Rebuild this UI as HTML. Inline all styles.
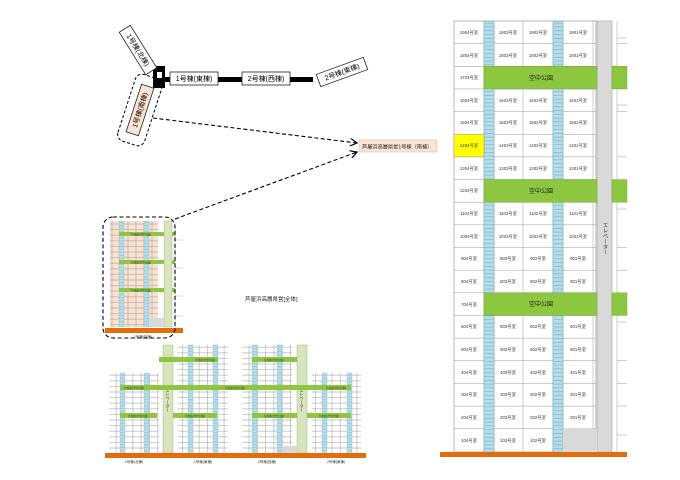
<!DOCTYPE html>
<html><head><meta charset="utf-8"><style>
html,body{margin:0;padding:0;background:#fff;}
svg{display:block;font-family:"Liberation Sans","Noto Sans CJK JP",sans-serif;}
.rt{font-size:4.3px;fill:#333;text-anchor:middle;}
.bx{fill:#fff;stroke:#222;stroke-width:0.8;}
.bt{font-size:7px;fill:#000;text-anchor:middle;}
</style></head><body>
<svg width="680" height="480" viewBox="0 0 680 480" xmlns="http://www.w3.org/2000/svg">
<defs>
<pattern id="st" width="10" height="3.8" patternUnits="userSpaceOnUse"><rect width="10" height="3.8" fill="#b7dde8"/><line x1="0" y1="0.3" x2="10" y2="0.3" stroke="#6fa9bb" stroke-width="0.5"/></pattern>
<pattern id="gw" width="8.3" height="5.6" patternUnits="userSpaceOnUse"><rect width="8.3" height="5.6" fill="#fff" stroke="#9a9a9a" stroke-width="0.5"/></pattern>
<pattern id="gp" width="8" height="5.6" patternUnits="userSpaceOnUse"><rect width="8" height="5.6" fill="#fbe1cf" stroke="#9a9a9a" stroke-width="0.5"/></pattern>
<pattern id="ss" width="5" height="3" patternUnits="userSpaceOnUse"><rect width="5" height="3" fill="#b7dde8"/><line x1="0" y1="0.2" x2="5" y2="0.2" stroke="#7fb3c4" stroke-width="0.4"/></pattern>
<marker id="ar" markerWidth="8" markerHeight="8" refX="7" refY="4" orient="auto" markerUnits="userSpaceOnUse"><path d="M0,0 L7,4 L0,8" fill="none" stroke="#000" stroke-width="1.2"/></marker>
</defs>

<!-- ================= RIGHT PANEL ================= -->
<rect x="454" y="21" width="142" height="431" fill="#fff" stroke="#888" stroke-width="0.6"/>
<g stroke="#999" stroke-width="0.5">
<line x1="484" y1="21" x2="484" y2="452"/><line x1="494" y1="21" x2="494" y2="452"/>
<line x1="523" y1="21" x2="523" y2="452"/><line x1="553" y1="21" x2="553" y2="452"/>
<line x1="563" y1="21" x2="563" y2="452"/><line x1="593" y1="21" x2="593" y2="429"/>
<line x1="454" y1="43.65" x2="596" y2="43.65"/><line x1="454" y1="66.3" x2="596" y2="66.3"/>
<line x1="454" y1="88.95" x2="596" y2="88.95"/><line x1="454" y1="111.6" x2="596" y2="111.6"/>
<line x1="454" y1="134.25" x2="596" y2="134.25"/><line x1="454" y1="156.9" x2="596" y2="156.9"/>
<line x1="454" y1="179.55" x2="596" y2="179.55"/><line x1="454" y1="202.2" x2="596" y2="202.2"/>
<line x1="454" y1="224.85" x2="596" y2="224.85"/><line x1="454" y1="247.5" x2="596" y2="247.5"/>
<line x1="454" y1="270.15" x2="596" y2="270.15"/><line x1="454" y1="292.8" x2="596" y2="292.8"/>
<line x1="454" y1="315.45" x2="596" y2="315.45"/><line x1="454" y1="338.1" x2="596" y2="338.1"/>
<line x1="454" y1="360.75" x2="596" y2="360.75"/><line x1="454" y1="383.4" x2="596" y2="383.4"/>
<line x1="454" y1="406.05" x2="596" y2="406.05"/><line x1="454" y1="428.7" x2="596" y2="428.7"/>
</g>
<rect x="484" y="21" width="10" height="431" fill="url(#st)" stroke="#6fa9bb" stroke-width="0.5"/>
<rect x="553" y="21" width="10" height="431" fill="url(#st)" stroke="#6fa9bb" stroke-width="0.5"/>
<rect x="454" y="134.25" width="30" height="22.65" fill="#ffff00" stroke="#999" stroke-width="0.5"/>
<!-- elevator -->
<rect x="597" y="21" width="15" height="431" fill="#d9d9d9" stroke="#999" stroke-width="0.5"/>
<rect x="563" y="428.7" width="34" height="23.3" fill="#d9d9d9"/>
<text x="604.5" y="222" style="font-size:5.5px;fill:#333;writing-mode:tb;">エレベーター</text>
<!-- right partial -->
<g stroke="#999" stroke-width="0.5">
<line x1="617" y1="21" x2="617" y2="452"/>
<line x1="617" y1="38" x2="627" y2="38"/><line x1="617" y1="43.65" x2="627" y2="43.65"/>
<line x1="617" y1="105" x2="627" y2="105"/><line x1="617" y1="111.6" x2="627" y2="111.6"/>
<line x1="617" y1="156.9" x2="627" y2="156.9"/><line x1="617" y1="209" x2="627" y2="209"/>
<line x1="617" y1="247.5" x2="627" y2="247.5"/><line x1="617" y1="270.15" x2="627" y2="270.15"/>
<line x1="617" y1="322" x2="627" y2="322"/><line x1="617" y1="360.75" x2="627" y2="360.75"/>
<line x1="617" y1="383.4" x2="627" y2="383.4"/><line x1="617" y1="406.05" x2="627" y2="406.05"/>
<line x1="617" y1="435" x2="627" y2="435"/>
</g>
<!-- parks -->
<g fill="#8dc63f" stroke="#6a9a2c" stroke-width="0.4">
<rect x="484" y="66.3" width="113" height="22.65"/><rect x="612" y="66.3" width="15" height="22.65"/>
<rect x="484" y="179.55" width="113" height="22.65"/><rect x="612" y="179.55" width="15" height="22.65"/>
<rect x="484" y="292.8" width="113" height="22.65"/><rect x="612" y="292.8" width="15" height="22.65"/>
</g>
<g style="font-size:6px;fill:#222;text-anchor:middle;">
<text x="541" y="80">空中公園</text><text x="541" y="193">空中公園</text><text x="541" y="306">空中公園</text>
</g>
<rect x="440" y="452" width="187" height="5" fill="#e46c0a"/>
<g class="rt">
<text x="469" y="34">1904号室</text><text x="508" y="34">1903号室</text><text x="538" y="34">1902号室</text><text x="578" y="34">1901号室</text>
<text x="469" y="57">1804号室</text><text x="508" y="57">1803号室</text><text x="538" y="57">1802号室</text><text x="578" y="57">1801号室</text>
<text x="469" y="79">1704号室</text>
<text x="469" y="102">1604号室</text><text x="508" y="102">1603号室</text><text x="538" y="102">1602号室</text><text x="578" y="102">1601号室</text>
<text x="469" y="124">1504号室</text><text x="508" y="124">1503号室</text><text x="538" y="124">1502号室</text><text x="578" y="124">1501号室</text>
<text x="469" y="147">1404号室</text><text x="508" y="147">1403号室</text><text x="538" y="147">1402号室</text><text x="578" y="147">1401号室</text>
<text x="469" y="170">1304号室</text><text x="508" y="170">1303号室</text><text x="538" y="170">1302号室</text><text x="578" y="170">1301号室</text>
<text x="469" y="192">1204号室</text>
<text x="469" y="215">1104号室</text><text x="508" y="215">1103号室</text><text x="538" y="215">1102号室</text><text x="578" y="215">1101号室</text>
<text x="469" y="238">1004号室</text><text x="508" y="238">1003号室</text><text x="538" y="238">1002号室</text><text x="578" y="238">1001号室</text>
<text x="469" y="260">904号室</text><text x="508" y="260">903号室</text><text x="538" y="260">902号室</text><text x="578" y="260">901号室</text>
<text x="469" y="283">804号室</text><text x="508" y="283">803号室</text><text x="538" y="283">802号室</text><text x="578" y="283">801号室</text>
<text x="469" y="306">704号室</text>
<text x="469" y="328">604号室</text><text x="508" y="328">603号室</text><text x="538" y="328">602号室</text><text x="578" y="328">601号室</text>
<text x="469" y="351">504号室</text><text x="508" y="351">503号室</text><text x="538" y="351">502号室</text><text x="578" y="351">501号室</text>
<text x="469" y="374">404号室</text><text x="508" y="374">403号室</text><text x="538" y="374">402号室</text><text x="578" y="374">401号室</text>
<text x="469" y="396">304号室</text><text x="508" y="396">303号室</text><text x="538" y="396">302号室</text><text x="578" y="396">301号室</text>
<text x="469" y="419">204号室</text><text x="508" y="419">203号室</text><text x="538" y="419">202号室</text><text x="578" y="419">201号室</text>
<text x="469" y="442">104号室</text><text x="508" y="442">103号室</text><text x="538" y="442">102号室</text>
</g>

<!-- ================= TOP-LEFT PLAN ================= -->
<rect x="153" y="77" width="160" height="5" fill="#000"/>
<rect x="153" y="66" width="12" height="22" fill="#000"/>
<rect x="157" y="72" width="5" height="6" fill="#fff"/>
<rect class="bx" x="170" y="72" width="48" height="13"/><text class="bt" x="194" y="81">1号棟(東棟)</text>
<rect class="bx" x="242" y="72" width="48" height="13"/><text class="bt" x="266" y="81">2号棟(西棟)</text>
<g transform="translate(342,72) rotate(-20)"><rect class="bx" x="-25" y="-6.5" width="50" height="13"/><text class="bt" x="0" y="2.5">2号棟(東棟)</text></g>
<g transform="translate(138,50) rotate(58)"><rect class="bx" x="-25" y="-6.5" width="50" height="13"/><text class="bt" x="0" y="2.5">1号棟(北棟)</text></g>
<g transform="translate(140,110) rotate(-72)">
<rect x="-35" y="-14" width="70" height="28" rx="7" fill="none" stroke="#000" stroke-width="1" stroke-dasharray="3,2"/>
<rect x="-25" y="-6.5" width="50" height="13" fill="#fbe4d5" stroke="#222" stroke-width="0.8"/><text class="bt" x="0" y="2.5">1号棟(南棟)</text></g>
<line x1="153" y1="118" x2="357" y2="143" stroke="#000" stroke-width="1.1" stroke-dasharray="4,2.5" marker-end="url(#ar)"/>
<line x1="175" y1="219" x2="357" y2="152" stroke="#000" stroke-width="1.1" stroke-dasharray="4,2.5" marker-end="url(#ar)"/>
<rect x="359" y="140" width="78" height="12" fill="#fbe4d5" stroke="#bbb" stroke-width="0.5"/>
<text x="362" y="148.5" style="font-size:5.2px;fill:#222;">芦屋浜高層県営1号棟（南棟）</text>

<!-- ================= LEFT BUILDING (南棟) ================= -->
<rect x="110" y="221" width="48" height="106" fill="url(#gp)"/>
<rect x="119" y="221" width="5" height="106" fill="url(#ss)" stroke="#7fb3c4" stroke-width="0.3"/>
<rect x="144" y="221" width="5" height="106" fill="url(#ss)" stroke="#7fb3c4" stroke-width="0.3"/>
<rect x="164" y="221" width="8" height="106" fill="#d8e4bc" stroke="#9aab7c" stroke-width="0.4"/>
<rect x="149" y="318" width="15" height="9" fill="#d9d9d9"/>
<g stroke="#999" stroke-width="0.4"><line x1="175" y1="222" x2="175" y2="328"/><line x1="175" y1="240" x2="183" y2="240"/><line x1="175" y1="268" x2="183" y2="268"/><line x1="175" y1="296" x2="183" y2="296"/><line x1="175" y1="316" x2="183" y2="316"/></g>
<g fill="#8dc63f"><rect x="119" y="232" width="45" height="4"/><rect x="119" y="260" width="45" height="4"/><rect x="119" y="288" width="45" height="4"/>
<rect x="172" y="232" width="3" height="4"/><rect x="172" y="260" width="3" height="4"/><rect x="172" y="288" width="3" height="4"/></g>
<g style="font-size:2.6px;fill:#333;text-anchor:middle;"><text x="141" y="235.3">共用廊(空中公園)</text><text x="141" y="263.3">共用廊(空中公園)</text><text x="141" y="291.3">共用廊(空中公園)</text></g>
<rect x="105" y="328" width="78" height="5" fill="#e46c0a"/>
<text x="143" y="338" style="font-size:3.5px;fill:#333;text-anchor:middle;">1号棟(南棟)</text>
<rect x="103" y="217" width="72" height="121" rx="10" fill="none" stroke="#000" stroke-width="1.1" stroke-dasharray="4,2.5"/>

<text x="245" y="301" style="font-size:5.5px;fill:#222;">芦屋浜高層県営[全体]</text>

<!-- ================= BOTTOM ELEVATION ================= -->
<rect x="109" y="373" width="50" height="80" fill="url(#gw)"/>
<rect x="178" y="345" width="50" height="108" fill="url(#gw)"/>
<rect x="242" y="345" width="50" height="108" fill="url(#gw)"/>
<rect x="312" y="373" width="49" height="80" fill="url(#gw)"/>
<g fill="url(#ss)" stroke="#7fb3c4" stroke-width="0.3">
<rect x="120" y="373" width="5" height="80"/><rect x="144" y="373" width="5" height="80"/>
<rect x="188" y="345" width="5" height="108"/><rect x="213" y="345" width="5" height="108"/>
<rect x="252" y="345" width="5" height="108"/><rect x="277" y="345" width="5" height="108"/>
<rect x="322" y="373" width="5" height="80"/><rect x="347" y="373" width="5" height="80"/>
</g>
<rect x="163" y="345" width="10" height="108" fill="#d8e4bc" stroke="#9aab7c" stroke-width="0.4"/>
<rect x="297" y="345" width="10" height="108" fill="#d8e4bc" stroke="#9aab7c" stroke-width="0.4"/>
<rect x="282" y="446" width="15" height="7" fill="#d9d9d9"/>
<g style="font-size:4px;fill:#333;writing-mode:tb;"><text x="168" y="388">エレベーター</text><text x="302" y="388">エレベーター</text></g>
<g fill="#8dc63f">
<rect x="159" y="357" width="59" height="5"/><rect x="252" y="357" width="45" height="5"/>
<rect x="120" y="385" width="231" height="5"/>
<rect x="120" y="413" width="37" height="5"/><rect x="173" y="413" width="44" height="5"/>
<rect x="252" y="413" width="45" height="5"/><rect x="307" y="413" width="44" height="5"/>
</g>
<g style="font-size:2.6px;fill:#333;text-anchor:middle;">
<text x="205" y="360.8">共用廊(空中公園)</text><text x="274" y="360.8">共用廊(空中公園)</text>
<text x="134" y="388.8">共用廊(空中公園)</text><text x="235" y="388.8">共用廊(空中公園)</text><text x="336" y="388.8">共用廊(空中公園)</text>
<text x="138" y="416.8">共用廊(空中公園)</text><text x="195" y="416.8">共用廊(空中公園)</text><text x="274" y="416.8">共用廊(空中公園)</text><text x="329" y="416.8">共用廊(空中公園)</text>
</g>
<rect x="105" y="453" width="261" height="5" fill="#e46c0a"/>
<g style="font-size:3.5px;fill:#333;text-anchor:middle;">
<text x="134" y="463">1号棟(北棟)</text><text x="203" y="463">1号棟(東棟)</text><text x="267" y="463">2号棟(西棟)</text><text x="336" y="463">2号棟(東棟)</text>
</g>
</svg>
</body></html>
